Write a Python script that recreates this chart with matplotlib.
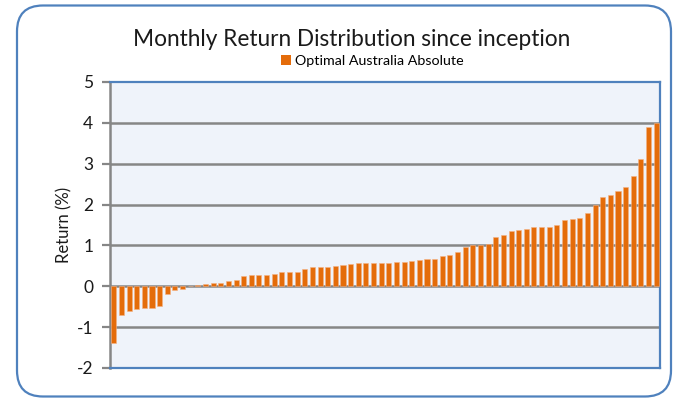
import matplotlib
matplotlib.use("Agg")
import matplotlib.pyplot as plt
from matplotlib.patches import FancyBboxPatch, Patch
from matplotlib.transforms import IdentityTransform

series_name = "Optimal Australia Absolute"
returns = [
    -1.38, -0.70, -0.60, -0.56, -0.54, -0.52, -0.49, -0.19, -0.10, -0.06,
    0.00, 0.04, 0.06, 0.09, 0.09, 0.14, 0.16, 0.25, 0.28, 0.28,
    0.28, 0.31, 0.34, 0.35, 0.36, 0.43, 0.46, 0.46, 0.46, 0.50,
    0.52, 0.54, 0.57, 0.57, 0.57, 0.57, 0.57, 0.59, 0.59, 0.63,
    0.65, 0.66, 0.67, 0.74, 0.77, 0.85, 0.96, 1.02, 1.02, 1.04,
    1.21, 1.25, 1.35, 1.37, 1.39, 1.44, 1.44, 1.46, 1.50, 1.63,
    1.65, 1.68, 1.80, 1.99, 2.19, 2.23, 2.34, 2.43, 2.69, 3.11,
    3.89, 4.00,
]
y_ticks = [-2, -1, 0, 1, 2, 3, 4, 5]
title = "Monthly Return Distribution since inception"
y_label = "Return (%)"

FONT = ["Lato", "DejaVu Sans"]
plt.rcParams["font.family"] = FONT

W, H = 684, 401
fig = plt.figure(figsize=(W / 100, H / 100), dpi=100)
fig.patch.set_facecolor("white")

# rounded border
box = FancyBboxPatch((17, 4.5), 654, 391, boxstyle="round,pad=0,rounding_size=26",
                     transform=IdentityTransform(), facecolor="none",
                     edgecolor="#4F81BD", linewidth=1.6, zorder=0)
fig.patches.append(box)

ax = fig.add_axes([110 / W, (H - 368) / H, (660 - 110) / W, (368 - 82) / H])
ax.set_facecolor("#EFF3FA")

x = list(range(len(returns)))
ax.bar(x, returns, width=0.66, color="#E46C0A", edgecolor="#F4B183",
       linewidth=0.4, zorder=3)

ax.set_xlim(-0.5, len(returns) - 0.5)
ax.set_ylim(-2, 5)
ax.set_yticks(y_ticks)
ax.set_yticklabels([str(t) for t in y_ticks], fontsize=12.5, color="#1a1a1a")
ax.set_xticks([])
ax.tick_params(axis="y", direction="out", length=6, width=1.6, color="#868686", pad=6)

for t in y_ticks:
    if t in (-2, 5):
        continue
    ax.axhline(t, color="#868686", linewidth=1.8, zorder=2)

for side in ("top", "right", "bottom"):
    ax.spines[side].set_color("#4F81BD")
    ax.spines[side].set_linewidth(1.6)
ax.spines["left"].set_color("#868686")
ax.spines["left"].set_linewidth(1.8)

ax.set_ylabel(y_label, fontsize=12, color="#1a1a1a", labelpad=3)

fig.text(352 / W, 1 - 40 / H, title, ha="center", va="center",
         fontsize=16.3, color="#1a1a1a")

handle = Patch(facecolor="#E46C0A", edgecolor="none")
fig.legend([handle], [series_name], loc="center", bbox_to_anchor=(372 / W, 1 - 61 / H),
           frameon=False, fontsize=10.3, handlelength=0.7, handleheight=0.7,
           handletextpad=0.3, borderpad=0)

fig.savefig("out.png", dpi=100)
